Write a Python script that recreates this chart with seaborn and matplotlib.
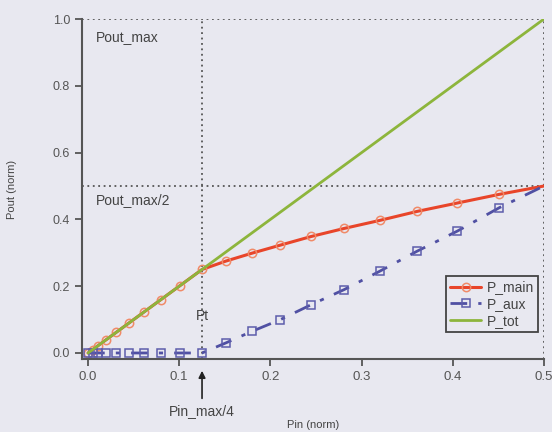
import numpy as np
import pandas as pd
import seaborn as sns
import matplotlib
matplotlib.use("Agg")
import matplotlib.pyplot as plt

# values (normalised input / output power)
pin = [0.0, 0.005, 0.011, 0.02, 0.031, 0.045, 0.061, 0.08, 0.101, 0.125,
       0.151, 0.18, 0.211, 0.245, 0.281, 0.32, 0.361, 0.405, 0.451, 0.5]
p_main = [0.0, 0.01, 0.022, 0.04, 0.062, 0.09, 0.122, 0.16, 0.202, 0.25,
          0.275, 0.299, 0.323, 0.349, 0.373, 0.397, 0.424, 0.449, 0.475, 0.5]
p_aux = [0.0, 0.0, 0.0, 0.0, 0.0, 0.0, 0.0, 0.0, 0.0, 0.0,
         0.03, 0.065, 0.10, 0.145, 0.19, 0.245, 0.305, 0.365, 0.435, 0.5]
p_tot = [0.0, 0.01, 0.022, 0.04, 0.062, 0.09, 0.122, 0.16, 0.202, 0.25,
         0.302, 0.36, 0.422, 0.49, 0.562, 0.64, 0.722, 0.81, 0.902, 1.0]

pt = 0.125        # Pin_max/4
half_out = 0.5    # Pout_max/2

bg = "#e8e8f0"
ink = "#444444"

sns.set_style("ticks")
plt.rcParams["font.family"] = ["Liberation Sans", "DejaVu Sans"]
plt.rcParams["text.color"] = ink
plt.rcParams["axes.labelcolor"] = ink
plt.rcParams["xtick.color"] = "#555555"
plt.rcParams["ytick.color"] = "#555555"

df = pd.DataFrame({"pin": pin, "P_main": p_main, "P_aux": p_aux, "P_tot": p_tot})
marks = list(range(len(pin) - 1))   # no marker on the end point

fig = plt.figure(figsize=(5.52, 4.32), dpi=100, facecolor=bg)
ax = fig.add_axes([0.1486, 0.169, 0.8369, 0.787])
ax.set_facecolor(bg)

# guide lines
dot = dict(color="#555555", linestyle=(0, (1, 2)), linewidth=1.3, zorder=1)
ax.axhline(1.0, **dot)
ax.axhline(half_out, **dot)
ax.axvline(pt, **dot)
ax.axvline(0.5, **dot)

sns.lineplot(data=df, x="pin", y="P_main", ax=ax, color="#e8452a", linewidth=2.2,
             marker="o", markersize=6, markerfacecolor="none", markevery=marks,
             markeredgecolor="#f08a68", markeredgewidth=1.1, label="P_main")
sns.lineplot(data=df, x="pin", y="P_aux", ax=ax, color="#5050a3", linewidth=2,
             linestyle=(0, (6, 4, 1.5, 4)),
             marker="s", markersize=5.5, markerfacecolor="none", markevery=marks,
             markeredgecolor="#5d5dab", markeredgewidth=1.1, label="P_aux")
sns.lineplot(data=df, x="pin", y="P_tot", ax=ax, color="#8db53c", linewidth=2,
             label="P_tot")

ax.set_xlim(-0.0066, 0.5)
ax.set_ylim(-0.018, 1.0)
ax.set_xticks([0.0, 0.1, 0.2, 0.3, 0.4, 0.5])
ax.set_yticks([0.0, 0.2, 0.4, 0.6, 0.8, 1.0])
ax.set_xticklabels([f"{v:.1f}" for v in [0.0, 0.1, 0.2, 0.3, 0.4, 0.5]], fontsize=9.5)
ax.set_yticklabels([f"{v:.1f}" for v in [0.0, 0.2, 0.4, 0.6, 0.8, 1.0]], fontsize=9)
ax.tick_params(direction="out", length=5, width=1.3)

sns.despine(ax=ax)
for s in ["left", "bottom"]:
    ax.spines[s].set_color("#555555")
    ax.spines[s].set_linewidth(1.5)

ax.set_xlabel("Pin (norm)", fontsize=8)
ax.set_ylabel("Pout (norm)", fontsize=8)
ax.xaxis.set_label_coords(0.5, -0.18)
ax.yaxis.set_label_coords(-0.14, 0.5)

ax.text(0.009, 0.946, "Pout_max", fontsize=10, va="center", ha="left")
ax.text(0.009, 0.458, "Pout_max/2", fontsize=10, va="center", ha="left")
ax.text(pt, 0.11, "Pt", fontsize=10, va="center", ha="center")
ax.annotate("Pin_max/4", xy=(pt, -0.045), xytext=(pt, -0.175),
            ha="center", va="center", fontsize=10, annotation_clip=False,
            arrowprops=dict(arrowstyle="-|>", color="#222222", lw=1.2))

leg = ax.legend(loc="lower right", bbox_to_anchor=(0.987, 0.079), borderaxespad=0,
                fontsize=10, frameon=True, fancybox=False, edgecolor=ink,
                facecolor=bg, framealpha=1, handlelength=2.2, handletextpad=0.4,
                labelspacing=0.2, borderpad=0.3)
leg.get_frame().set_linewidth(1.3)

fig.savefig("out.png", dpi=100, facecolor=bg)
